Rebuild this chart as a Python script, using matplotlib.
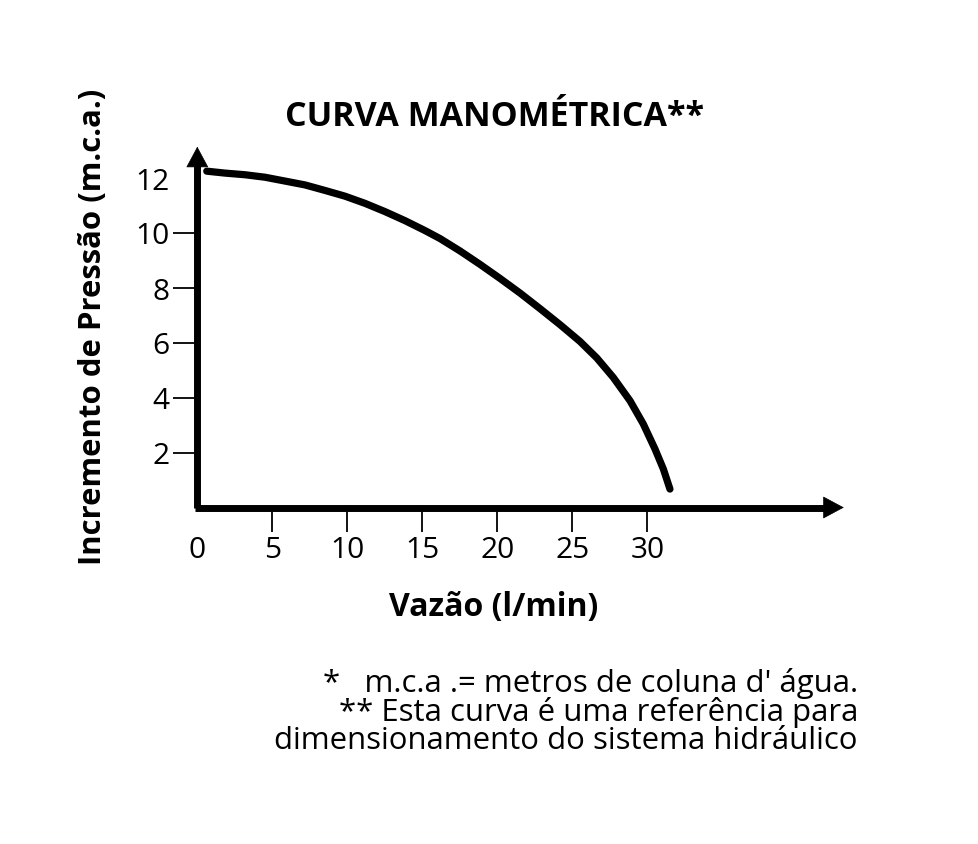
import matplotlib
matplotlib.use("Agg")
import matplotlib.pyplot as plt

plt.rcParams['font.family'] = ['Open Sans', 'DejaVu Sans']

# Data
vazao = [0.63, 1.85, 3.18, 4.51, 5.85, 7.18, 8.51, 9.85, 11.18, 12.51, 13.85, 15.18,
         16.18, 17.51, 18.85, 20.18, 21.51, 22.85, 24.18, 25.51, 26.63, 27.73, 28.85,
         29.73, 30.51, 31.07, 31.51]
pressao = [12.23, 12.16, 12.10, 12.01, 11.87, 11.73, 11.53, 11.32, 11.06, 10.76, 10.43, 10.07,
           9.78, 9.33, 8.84, 8.33, 7.80, 7.23, 6.65, 6.04, 5.44, 4.73, 3.88,
           3.04, 2.13, 1.40, 0.67]

xticks = [5, 10, 15, 20, 25, 30]
xticklabels = ['5', '10', '15', '20', '25', '30']
yticks = [2, 4, 6, 8, 10, 12]
yticklabels = ['2', '4', '6', '8', '10', '12']

title = 'CURVA MANOMÉTRICA**'
xlabel = 'Vazão (l/min)'
ylabel = 'Incremento de Pressão (m.c.a.)'
footnote = "*   m.c.a .= metros de coluna d' água.\n** Esta curva é uma referência para\ndimensionamento do sistema hidráulico"

W, H = 979, 845
fig = plt.figure(figsize=(W / 100, H / 100), dpi=100)

x0_px, y0_px = 197.3, 508.5
sx, sy = 15.0, 27.5
xmax, ymax = 43.5, 13.3
ax = fig.add_axes([x0_px / W, (H - y0_px) / H, xmax * sx / W, ymax * sy / H])
ax.set_xlim(0, xmax)
ax.set_ylim(0, ymax)
for s in ax.spines.values():
    s.set_visible(False)

# axis lines
ax.plot([-0.12, 42.0], [0, 0], color='black', lw=5, solid_capstyle='butt', clip_on=False)
ax.plot([0, 0], [0, 12.5], color='black', lw=5, solid_capstyle='butt', clip_on=False)
# arrow heads
head = '-|>,head_length=1.4,head_width=0.75'
ax.annotate('', xy=(43.1, 0), xytext=(41.0, 0),
            arrowprops=dict(arrowstyle=head, lw=0.5, color='black',
                            shrinkA=0, shrinkB=0, mutation_scale=10),
            annotation_clip=False)
ax.annotate('', xy=(0, 13.12), xytext=(0, 12.0),
            arrowprops=dict(arrowstyle=head, lw=0.5, color='black',
                            shrinkA=0, shrinkB=0, mutation_scale=10),
            annotation_clip=False)

# curve
ax.plot(vazao, pressao, color='black', lw=5.2, solid_capstyle='round', solid_joinstyle='round', clip_on=False)

ax.set_xticks([0] + xticks)
ax.set_xticklabels(['0'] + xticklabels, fontsize=21.5)
ax.set_yticks(yticks)
ax.set_yticklabels(yticklabels, fontsize=21.5)
ax.tick_params(axis='both', direction='out', length=17, width=1.3, color='black', pad=3.0)
ax.xaxis.get_major_ticks()[0].tick1line.set_visible(False)
ax.yaxis.get_major_ticks()[-1].tick1line.set_visible(False)

fig.text(495 / W, 1 - 117 / H, title, ha='center', va='center', fontsize=24.5, fontweight='bold')
fig.text(494 / W, 1 - 608 / H, xlabel, ha='center', va='center', fontsize=23, fontweight='bold')
fig.text(93 / W, 1 - 327 / H, ylabel, ha='center', va='center', fontsize=22.4, fontweight='bold', rotation=90)
fig.text(858 / W, 1 - 712 / H, footnote, ha='right', va='center', multialignment='right',
         fontsize=22.4, linespacing=0.92)

fig.savefig('out.png', dpi=100, facecolor='white')
